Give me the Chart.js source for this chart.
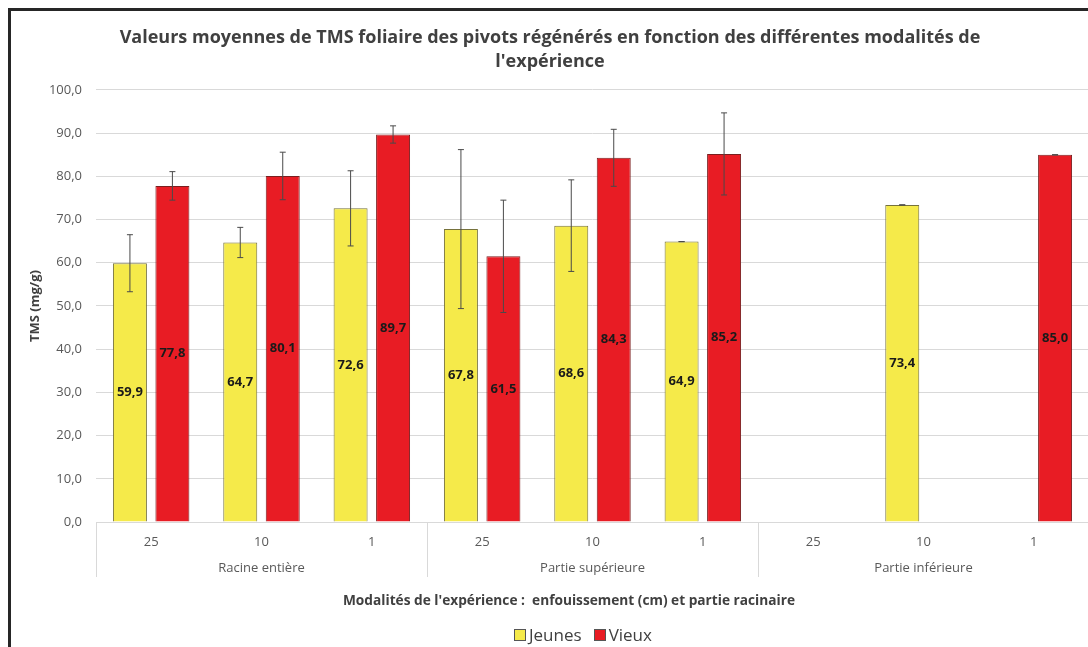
<!DOCTYPE html>
<html lang="fr">
<head>
<meta charset="utf-8">
<title>TMS foliaire des pivots régénérés</title>
<script src="https://cdn.jsdelivr.net/npm/chart.js@4.4.1/dist/chart.umd.min.js"></script>
<style>
  html, body { margin: 0; padding: 0; background: #fff; overflow: hidden; width: 1088px; height: 647px; }
  #cadre { position: absolute; left: 8px; top: 8px; width: 1200px; height: 800px; border: 3px solid #262626; }
  #graphique { position: absolute; left: 0; top: 0; }
  #legende { position: absolute; left: 503px; top: 612px; font: 17px 'Open Sans', sans-serif; color: #404040; display: flex; align-items: center; }
  #legende span.carre { display: inline-block; width: 10px; height: 10px; border: 1px solid #555; margin-right: 3px; }
  #legende span.item { display: inline-flex; align-items: center; margin-right: 12px; }
</style>
</head>
<body>
<div id="cadre">
  <canvas id="graphique" width="1090" height="636"></canvas>
  <div id="legende">
    <span class="item"><span class="carre" style="background:#f5ea4a"></span>Jeunes</span>
    <span class="item"><span class="carre" style="background:#e81c24"></span>Vieux</span>
  </div>
</div>
<script>
// profondeur d'enfouissement (cm) pour chaque barre
const enfouissement = ["25", "10", "1", "25", "10", "1", "25", "10", "1"];
// partie racinaire : 3 modalités par groupe
const parties = ["Racine entière", "Partie supérieure", "Partie inférieure"];

// TMS moyenne (mg/g)
const jeunes = [59.9, 64.7, 72.6, 67.8, 68.6, 64.9, null, 73.4, null];
const vieux = [77.8, 80.1, 89.7, 61.5, 84.3, 85.2, null, null, 85.0];

// écarts (barres d'erreur, +/-)
const jeunesErr = [6.6, 3.5, 8.7, 18.4, 10.6, 0, null, 0, null];
const vieuxErr = [3.3, 5.5, 2.0, 13.0, 6.6, 9.5, null, null, 0];

const yTicks = [0, 10, 20, 30, 40, 50, 60, 70, 80, 90, 100];

const police = "'Open Sans', 'Liberation Sans', sans-serif";
const fmt = (v) => v.toFixed(1).replace(".", ",");

// barres d'erreur + étiquettes de valeur
const barresErreur = {
  id: "barresErreur",
  afterDatasetsDraw(chart) {
    const { ctx, scales: { y } } = chart;
    ctx.save();
    chart.data.datasets.forEach((ds, i) => {
      const meta = chart.getDatasetMeta(i);
      meta.data.forEach((bar, j) => {
        const v = ds.data[j];
        const e = ds.errors[j];
        if (v == null || e == null) return;
        const haut = y.getPixelForValue(v + e);
        const bas = y.getPixelForValue(v - e);
        const cap = 3;
        ctx.strokeStyle = "#4a4a4a";
        ctx.lineWidth = 1;
        ctx.beginPath();
        ctx.moveTo(bar.x, haut);
        ctx.lineTo(bar.x, bas);
        ctx.moveTo(bar.x - cap, haut);
        ctx.lineTo(bar.x + cap, haut);
        ctx.moveTo(bar.x - cap, bas);
        ctx.lineTo(bar.x + cap, bas);
        ctx.stroke();
      });
    });
    // valeurs au centre des barres
    ctx.font = "bold 13px " + police;
    ctx.fillStyle = "#1a1a1a";
    ctx.textAlign = "center";
    ctx.textBaseline = "middle";
    chart.data.datasets.forEach((ds, i) => {
      const meta = chart.getDatasetMeta(i);
      meta.data.forEach((bar, j) => {
        const v = ds.data[j];
        if (v == null) return;
        ctx.fillText(fmt(v), bar.x, (bar.y + bar.base) / 2);
      });
    });
    ctx.restore();
  }
};

// deuxième niveau de l'axe X (parties racinaires) + titre de l'axe
const axeGroupes = {
  id: "axeGroupes",
  afterDraw(chart) {
    const { ctx, chartArea, scales: { x } } = chart;
    const n = enfouissement.length;
    const parGroupe = n / parties.length;
    const larg = (x.right - x.left) / n;
    ctx.save();
    ctx.strokeStyle = "#d9d9d9";
    ctx.lineWidth = 1;
    ctx.beginPath();
    for (let g = 0; g <= parties.length; g++) {
      const px = Math.round(x.left + g * parGroupe * larg) + 0.5;
      ctx.moveTo(px, chartArea.bottom);
      ctx.lineTo(px, chartArea.bottom + 55);
    }
    ctx.stroke();
    ctx.font = "13px " + police;
    ctx.fillStyle = "#595959";
    ctx.textAlign = "center";
    ctx.textBaseline = "middle";
    parties.forEach((p, g) => {
      const cx = x.left + (g + 0.5) * parGroupe * larg;
      ctx.fillText(p, cx, chartArea.bottom + 46);
    });
    ctx.font = "bold 13.7px " + police;
    ctx.fillStyle = "#404040";
    ctx.fillText("Modalités de l'expérience :  enfouissement (cm) et partie racinaire", 558, chartArea.bottom + 79);
    ctx.restore();
  }
};

const ctx = document.getElementById("graphique").getContext("2d");
new Chart(ctx, {
  type: "bar",
  data: {
    labels: enfouissement,
    datasets: [
      {
        label: "Jeunes",
        data: jeunes,
        errors: jeunesErr,
        backgroundColor: "#f5ea4a",
        borderColor: "#76723c",
        borderWidth: 1,
        categoryPercentage: 0.77,
        barPercentage: 0.8,
      },
      {
        label: "Vieux",
        data: vieux,
        errors: vieuxErr,
        backgroundColor: "#e81c24",
        borderColor: "#7a1f1f",
        borderWidth: 1,
        categoryPercentage: 0.77,
        barPercentage: 0.8,
      },
    ],
  },
  options: {
    responsive: false,
    animation: false,
    layout: { padding: { left: 0, right: 12, top: 0, bottom: 0 } },
    plugins: {
      legend: { display: false },
      tooltip: { enabled: false },
      title: {
        display: true,
        text: [
          "Valeurs moyennes de TMS foliaire des pivots régénérés en fonction des différentes modalités de",
          "l'expérience",
        ],
        color: "#404040",
        font: { family: police, size: 18, weight: "bold", lineHeight: 1.333 },
        padding: { top: 15, bottom: 16 },
      },
    },
    scales: {
      x: {
        grid: { display: false },
        border: { color: "#d9d9d9" },
        ticks: { color: "#595959", font: { family: police, size: 13 }, padding: 4, maxRotation: 0 },
        afterFit: (s) => { s.height = 125; },
      },
      y: {
        min: 0,
        max: 100,
        afterBuildTicks: (s) => { s.ticks = yTicks.map((v) => ({ value: v })); },
        ticks: { color: "#595959", font: { family: police, size: 13 }, padding: 14, callback: (v) => fmt(v) },
        grid: { color: "#d9d9d9", drawTicks: false },
        border: { display: false },
        title: {
          display: true,
          text: "TMS (mg/g)",
          color: "#404040",
          font: { family: police, size: 13, weight: "bold" },
          padding: { top: 16, bottom: 0 },
        },
        afterFit: (s) => { s.width = 85; },
      },
    },
  },
  plugins: [barresErreur, axeGroupes],
});
</script>
</body>
</html>
